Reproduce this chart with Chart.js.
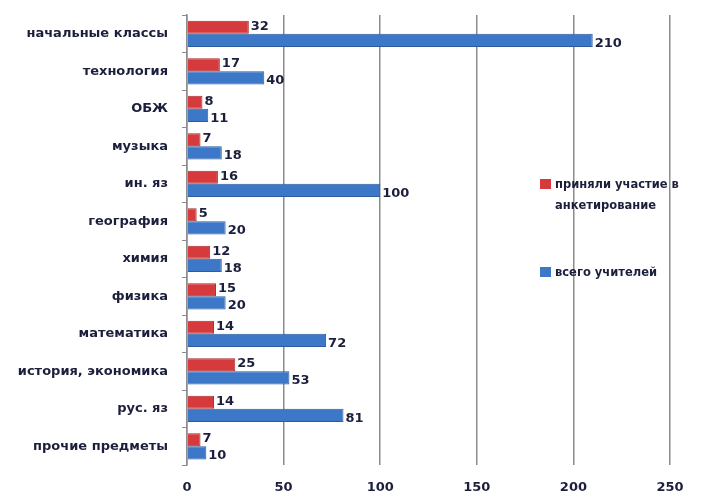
<!DOCTYPE html>
<html lang="ru">
<head>
    <meta charset="UTF-8">
    <title>Учителя</title>
    <style>
        body { margin: 0; background: #fff; }
        #wrap { position: relative; width: 701px; height: 493px; }
        .legend {
            position: absolute;
            font: bold 11.5px "DejaVu Sans", sans-serif;
            color: #1b1f3b;
            line-height: 21px;
        }
        .legend span.sw {
            display: inline-block;
            width: 11px;
            height: 10px;
            margin-right: 4px;
            vertical-align: -1px;
        }
    </style>
    <script src="https://cdn.jsdelivr.net/npm/chart.js"></script>
</head>
<body>
    <div id="wrap">
        <canvas id="barChart" width="701" height="493"></canvas>
        <div class="legend" style="left:540px; top:174px;">
            <span class="sw" style="background:#d63a3c"></span>приняли участие в<br>
            <span style="padding-left:15px">анкетирование</span>
        </div>
        <div class="legend" style="left:540px; top:262px;">
            <span class="sw" style="background:#3d77c7"></span>всего учителей
        </div>
    </div>

    <script>
        const subjects = ['начальные классы', 'технология', 'ОБЖ', 'музыка', 'ин. яз', 'география',
            'химия', 'физика', 'математика', 'история, экономика', 'рус. яз', 'прочие предметы'];
        const participated = [32, 17, 8, 7, 16, 5, 12, 15, 14, 25, 14, 7];
        const totalTeachers = [210, 40, 11, 18, 100, 20, 18, 20, 72, 53, 81, 10];
        const xTicks = [0, 50, 100, 150, 200, 250];

        const labelFont = '"DejaVu Sans", sans-serif';

        // labels at the end of every bar
        const valueLabels = {
            id: 'valueLabels',
            afterDatasetsDraw(chart) {
                const ctx = chart.ctx;
                ctx.save();
                ctx.font = 'bold 13px ' + labelFont;
                ctx.fillStyle = '#1b1f3b';
                ctx.textBaseline = 'middle';
                chart.data.datasets.forEach((ds, i) => {
                    chart.getDatasetMeta(i).data.forEach((bar, j) => {
                        const dy = i === 0 ? -1 : 3;
                        ctx.fillText(ds.data[j], bar.x + 2, bar.y + dy);
                    });
                });
                ctx.restore();
            }
        };

        new Chart(document.getElementById('barChart'), {
            type: 'bar',
            data: {
                labels: subjects,
                datasets: [
                    {
                        label: 'приняли участие в анкетирование',
                        data: participated,
                        backgroundColor: '#d63a3c',
                        borderColor: '#a82c2e',
                        borderWidth: 1
                    },
                    {
                        label: 'всего учителей',
                        data: totalTeachers,
                        backgroundColor: '#3d77c7',
                        borderColor: '#2c5c9e',
                        borderWidth: 1
                    }
                ]
            },
            options: {
                indexAxis: 'y',
                responsive: false,
                animation: false,
                layout: { padding: { top: 15, right: 31, left: 0, bottom: 0 } },
                plugins: { legend: { display: false }, tooltip: { enabled: false } },
                datasets: { bar: { categoryPercentage: 0.7, barPercentage: 1.0 } },
                scales: {
                    x: {
                        min: 0,
                        max: 250,
                        afterBuildTicks: s => { s.ticks = xTicks.map(v => ({ value: v })); },
                        grid: { color: '#8c8c8c', lineWidth: 1.5, drawTicks: false },
                        border: { display: false },
                        ticks: {
                            padding: 15,
                            color: '#1b1f3b',
                            font: { family: 'DejaVu Sans', size: 13, weight: 'bold' }
                        },
                        afterFit: s => { s.height = 28; }
                    },
                    y: {
                        grid: { drawOnChartArea: false, drawTicks: true, tickLength: 5, color: '#8c8c8c', offset: true },
                        border: { display: true, color: '#8c8c8c', width: 1.5 },
                        ticks: {
                            padding: 14,
                            color: '#1b1f3b',
                            font: { family: 'DejaVu Sans', size: 13, weight: 'bold' }
                        },
                        afterFit: s => { s.width = 187; s.paddingTop = 0; s.paddingBottom = 0; }
                    }
                }
            },
            plugins: [valueLabels]
        });
    </script>
</body>
</html>
